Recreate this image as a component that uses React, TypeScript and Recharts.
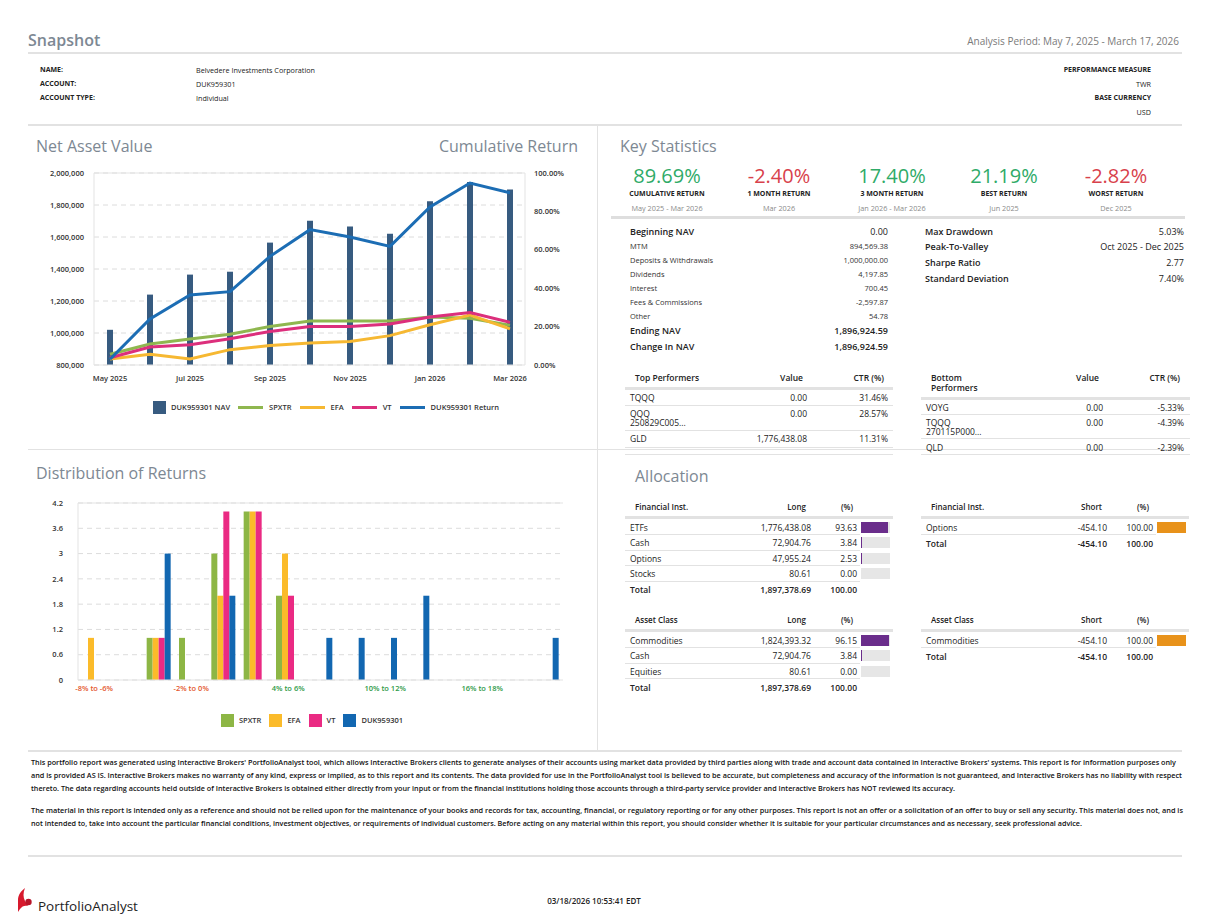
import React from 'react';
import {
  ComposedChart,
  BarChart,
  Bar,
  Line,
  XAxis,
  YAxis,
  CartesianGrid,
  Legend,
  ReferenceLine,
} from 'recharts';

const PAGE_W = 1207;
const PAGE_H = 923;
const FONT = '"Open Sans", "Noto Sans", sans-serif';
const TITLE = '#7d8893';
const RULE = '#e2e2e2';
const INK = '#222';

// ---- Net asset value / cumulative return ----
const months = ['May 2025', 'Jun 2025', 'Jul 2025', 'Aug 2025', 'Sep 2025', 'Oct 2025', 'Nov 2025', 'Dec 2025', 'Jan 2026', 'Feb 2026', 'Mar 2026'];
const navValues = [1020000, 1240000, 1365000, 1383000, 1565000, 1702000, 1665000, 1621000, 1823000, 1944000, 1896925];
const accountReturn = [3.0, 24.0, 36.5, 38.2, 56.6, 70.5, 66.7, 61.8, 82.3, 94.8, 89.7];
const spxtrReturn = [5.6, 10.9, 13.5, 16.0, 20.1, 22.9, 22.9, 22.9, 25.0, 24.3, 20.7];
const efaReturn = [3.1, 5.6, 3.1, 8.0, 10.1, 11.5, 12.3, 15.3, 21.0, 26.0, 18.8];
const vtReturn = [3.8, 9.4, 10.6, 13.7, 17.5, 20.1, 20.1, 21.4, 25.0, 27.3, 22.2];
const navTicks = [800000, 1000000, 1200000, 1400000, 1600000, 1800000, 2000000];
const returnTicks = [0, 20, 40, 60, 80, 100];
const navLegendOrder = ['DUK959301 NAV', 'SPXTR', 'EFA', 'VT', 'DUK959301 Return'];

// ---- Distribution of returns (count of months per bin) ----
const returnBins = ['-8% to -6%', '-6% to -4%', '-4% to -2%', '-2% to 0%', '0% to 2%', '2% to 4%', '4% to 6%', '6% to 8%', '8% to 10%', '10% to 12%', '12% to 14%', '14% to 16%', '16% to 18%', '18% to 20%', '20% to 22%'];
const spxtrCounts = [0, 0, 1, 1, 3, 4, 2, 0, 0, 0, 0, 0, 0, 0, 0];
const efaCounts = [1, 0, 1, 0, 2, 4, 3, 0, 0, 0, 0, 0, 0, 0, 0];
const vtCounts = [0, 0, 1, 0, 4, 4, 2, 0, 0, 0, 0, 0, 0, 0, 0];
const accountCounts = [0, 0, 3, 0, 2, 0, 0, 1, 1, 1, 2, 0, 0, 0, 1];
const distTicks = [0, 0.6, 1.2, 1.8, 2.4, 3, 3.6, 4.2];
const distLegendOrder = ['SPXTR', 'EFA', 'VT', 'DUK959301'];

// ---- Key statistics ----
const headlineValues = ['89.69%', '-2.40%', '17.40%', '21.19%', '-2.82%'];
const headlineLabels = ['CUMULATIVE RETURN', '1 MONTH RETURN', '3 MONTH RETURN', 'BEST RETURN', 'WORST RETURN'];
const headlinePeriods = ['May 2025 - Mar 2026', 'Mar 2026', 'Jan 2026 - Mar 2026', 'Jun 2025', 'Dec 2025'];
const navSummaryLabels = ['Beginning NAV', 'MTM', 'Deposits & Withdrawals', 'Dividends', 'Interest', 'Fees & Commissions', 'Other', 'Ending NAV', 'Change In NAV'];
const navSummaryValues = ['0.00', '894,569.38', '1,000,000.00', '4,197.85', '700.45', '-2,597.87', '54.78', '1,896,924.59', '1,896,924.59'];
const riskLabels = ['Max Drawdown', 'Peak-To-Valley', 'Sharpe Ratio', 'Standard Deviation'];
const riskValues = ['5.03%', 'Oct 2025 - Dec 2025', '2.77', '7.40%'];
const topNames = [['TQQQ'], ['QQQ', '250829C005...'], ['GLD']];
const topValues = ['0.00', '0.00', '1,776,438.08'];
const topCtr = ['31.46%', '28.57%', '11.31%'];
const bottomNames = [['VOYG'], ['TQQQ', '270115P000...'], ['QLD']];
const bottomValues = ['0.00', '0.00', '0.00'];
const bottomCtr = ['-5.33%', '-4.39%', '-2.39%'];

// ---- Allocation ----
const instLongNames = ['ETFs', 'Cash', 'Options', 'Stocks'];
const instLongValues = ['1,776,438.08', '72,904.76', '47,955.24', '80.61'];
const instLongPct = [93.63, 3.84, 2.53, 0.0];
const assetLongNames = ['Commodities', 'Cash', 'Equities'];
const assetLongValues = ['1,824,393.32', '72,904.76', '80.61'];
const assetLongPct = [96.15, 3.84, 0.0];
const longTotal = '1,897,378.69';
const instShortNames = ['Options'];
const assetShortNames = ['Commodities'];
const shortValues = ['-454.10'];
const shortPct = [100.0];
const shortTotal = '-454.10';

const disclaimer = [
  "This portfolio report was generated using Interactive Brokers' PortfolioAnalyst tool, which allows Interactive Brokers clients to generate analyses of their accounts using market data provided by third parties along with trade and account data contained in Interactive Brokers' systems. This report is for information purposes only",
  'and is provided AS IS. Interactive Brokers makes no warranty of any kind, express or implied, as to this report and its contents. The data provided for use in the PortfolioAnalyst tool is believed to be accurate, but completeness and accuracy of the information is not guaranteed, and Interactive Brokers has no liability with respect',
  'thereto. The data regarding accounts held outside of Interactive Brokers is obtained either directly from your input or from the financial institutions holding those accounts through a third-party service provider and Interactive Brokers has NOT reviewed its accuracy.',
  'The material in this report is intended only as a reference and should not be relied upon for the maintenance of your books and records for tax, accounting, financial, or regulatory reporting or for any other purposes. This report is not an offer or a solicitation of an offer to buy or sell any security. This material does not, and is',
  'not intended to, take into account the particular financial conditions, investment objectives, or requirements of individual customers. Before acting on any material within this report, you should consider whether it is suitable for your particular circumstances and as necessary, seek professional advice.',
];
const disclaimerY = [762, 775, 788, 810, 823];
const disclaimerEnd = [1176, 1182, 955, 1183, 1082];

const navData = months.map((month, i) => ({
  month,
  nav: navValues[i],
  account: accountReturn[i],
  spxtr: spxtrReturn[i],
  efa: efaReturn[i],
  vt: vtReturn[i],
}));

const distData = returnBins.map((bin, i) => ({
  bin,
  spxtr: spxtrCounts[i],
  efa: efaCounts[i],
  vt: vtCounts[i],
  account: accountCounts[i],
}));

type TProps = {
  x: number;
  y: number;
  a?: 'l' | 'r' | 'c';
  s?: number;
  w?: number;
  c?: string;
  children: React.ReactNode;
};

const T = ({ x, y, a = 'l', s = 8, w = 400, c = INK, children }: TProps) => {
  const st: React.CSSProperties = {
    position: 'absolute',
    top: y - s,
    height: s * 2,
    lineHeight: `${s * 2}px`,
    fontSize: s,
    fontWeight: w,
    color: c,
    whiteSpace: 'nowrap',
  };
  if (a === 'l') st.left = x;
  else if (a === 'r') st.right = PAGE_W - x;
  else {
    st.left = x - 150;
    st.width = 300;
    st.textAlign = 'center';
  }
  return <div style={st}>{children}</div>;
};

const HLine = ({ x1, x2, y, h = 1, c = RULE }: { x1: number; x2: number; y: number; h?: number; c?: string }) => (
  <div style={{ position: 'absolute', left: x1, width: x2 - x1, top: y - h / 2, height: h, background: c }} />
);

const VLine = ({ x, y1, y2, c = RULE }: { x: number; y1: number; y2: number; c?: string }) => (
  <div style={{ position: 'absolute', left: x, top: y1, width: 1, height: y2 - y1, background: c }} />
);

const axisTick = { fontSize: 7.5, fontWeight: 600, fill: '#333', fontFamily: FONT };

const ChartLegend = (props: any) => {
  const order: string[] = props.order || [];
  const payload = [...(props.payload || [])].sort(
    (a: any, b: any) => order.indexOf(a.value) - order.indexOf(b.value),
  );
  return (
    <div style={{ display: 'flex', justifyContent: 'center', alignItems: 'center', fontFamily: FONT, fontSize: 7.5, fontWeight: 600, color: '#333' }}>
      {payload.map((entry: any) => (
        <div key={entry.value} style={{ display: 'flex', alignItems: 'center', marginRight: 8 }}>
          {entry.type === 'plainline' ? (
            <div style={{ width: 25, height: 3, background: entry.color, marginRight: 6 }} />
          ) : (
            <div style={{ width: 13, height: 13, background: entry.color, marginRight: 5 }} />
          )}
          <span>{entry.value}</span>
        </div>
      ))}
    </div>
  );
};

const BinTick = (props: any) => {
  const { x, y, payload } = props;
  const label = String(payload.value);
  const negative = label.startsWith('-');
  return (
    <text x={x} y={y} dy={5.3} textAnchor="middle" fontFamily={FONT} fontSize={7.5} fontWeight={600} fill={negative ? '#e4572e' : '#2e9a48'}>
      {label}
    </text>
  );
};

const NavChart = () => (
  <ComposedChart width={560} height={261.5} data={navData} margin={{ top: 13, right: 5, bottom: 8, left: 12 }}>
    <CartesianGrid yAxisId="nav" vertical={false} stroke="#dcdcdc" strokeDasharray="5 4" />
    <XAxis
      dataKey="month"
      scale="point"
      padding={{ left: 16, right: 15 }}
      interval={1}
      tickLine={false}
      tickMargin={5}
      axisLine={{ stroke: '#e3e3e3' }}
      tick={axisTick}
      height={35.5}
    />
    <YAxis
      yAxisId="nav"
      domain={[800000, 2000000]}
      ticks={navTicks}
      tickFormatter={(v: number) => v.toLocaleString('en-US')}
      width={62}
      tickLine={false}
      tickMargin={4}
      axisLine={{ stroke: '#e3e3e3' }}
      tick={axisTick}
    />
    <YAxis
      yAxisId="ret"
      orientation="right"
      domain={[0, 100]}
      ticks={returnTicks}
      tickFormatter={(v: number) => `${v.toFixed(2)}%`}
      width={50}
      tickLine={false}
      tickMargin={3}
      axisLine={{ stroke: '#e3e3e3' }}
      tick={axisTick}
    />
    <ReferenceLine yAxisId="nav" y={2000000} stroke="#e3e3e3" />
    <Legend content={<ChartLegend order={navLegendOrder} />} wrapperStyle={{ left: 75, width: 470 }} />
    <Bar yAxisId="nav" dataKey="nav" name="DUK959301 NAV" legendType="square" fill="#375b80" barSize={6} isAnimationActive={false} />
    <Line yAxisId="ret" dataKey="spxtr" name="SPXTR" legendType="plainline" stroke="#8fb74f" strokeWidth={3} dot={false} isAnimationActive={false} />
    <Line yAxisId="ret" dataKey="efa" name="EFA" legendType="plainline" stroke="#f6b832" strokeWidth={3} dot={false} isAnimationActive={false} />
    <Line yAxisId="ret" dataKey="vt" name="VT" legendType="plainline" stroke="#dc2f7c" strokeWidth={3} dot={false} isAnimationActive={false} />
    <Line yAxisId="ret" dataKey="account" name="DUK959301 Return" legendType="plainline" stroke="#1c6db4" strokeWidth={3} dot={false} isAnimationActive={false} />
  </ComposedChart>
);

const DistChart = () => (
  <BarChart width={560} height={241.5} data={distData} margin={{ top: 13, right: 17, bottom: 5, left: 18 }} barGap={0} barSize={6}>
    <CartesianGrid vertical={false} stroke="#dcdcdc" strokeDasharray="5 4" />
    <XAxis dataKey="bin" interval={2} tickLine={false} tickMargin={0} axisLine={{ stroke: '#e3e3e3' }} tick={<BinTick />} height={33.5} />
    <YAxis domain={[0, 4.2]} ticks={distTicks} width={40} tickLine={false} tickMargin={9} axisLine={{ stroke: '#e3e3e3' }} tick={axisTick} />
    <YAxis yAxisId="edge" orientation="right" width={0} tick={false} axisLine={{ stroke: '#e3e3e3' }} />
    <ReferenceLine y={4.2} stroke="#e3e3e3" />
    <Legend content={<ChartLegend order={distLegendOrder} />} wrapperStyle={{ left: 66, width: 460 }} />
    <Bar dataKey="spxtr" name="SPXTR" legendType="square" fill="#8db645" isAnimationActive={false} />
    <Bar dataKey="efa" name="EFA" legendType="square" fill="#fbbb2a" isAnimationActive={false} />
    <Bar dataKey="vt" name="VT" legendType="square" fill="#ea2a83" isAnimationActive={false} />
    <Bar dataKey="account" name="DUK959301" legendType="square" fill="#1267b1" isAnimationActive={false} />
  </BarChart>
);

const PctBar = ({ x, y, pct, color }: { x: number; y: number; pct: number; color: string }) => (
  <div style={{ position: 'absolute', left: x, top: y - 5.5, width: 29, height: 11, background: '#e6e6e6' }}>
    <div style={{ width: `${pct}%`, height: '100%', background: color }} />
  </div>
);

type AllocProps = {
  x: number; // left edge of the band
  y: number; // header row centre
  title: string;
  side: string;
  names: string[];
  values: string[];
  pcts: number[];
  total: string;
  color: string;
};

const AllocTable = ({ x, y, title, side, names, values, pcts, total, color }: AllocProps) => {
  const rowY = (i: number) => y + 20 + i * 15.5;
  return (
    <>
      <T x={x + 10} y={y} s={8} w={600}>{title}</T>
      <T x={x + 181} y={y} a="r" s={8} w={600}>{side}</T>
      <T x={x + 228} y={y} a="r" s={8} w={600}>(%)</T>
      <HLine x1={x} x2={x + 268} y={y + 10.5} h={3} />
      {names.map((n, i) => (
        <React.Fragment key={n}>
          <T x={x + 5} y={rowY(i)} s={8.5}>{n}</T>
          <T x={x + 186} y={rowY(i)} a="r" s={8.5}>{values[i]}</T>
          <T x={x + 232} y={rowY(i)} a="r" s={8.5}>{pcts[i].toFixed(2)}</T>
          <PctBar x={x + 236} y={rowY(i)} pct={pcts[i]} color={color} />
          <HLine x1={x} x2={x + 235} y={rowY(i) + 7.7} />
        </React.Fragment>
      ))}
      <T x={x + 5} y={rowY(names.length) + 0.5} s={8.5} w={600}>Total</T>
      <T x={x + 186} y={rowY(names.length) + 0.5} a="r" s={8.5} w={600}>{total}</T>
      <T x={x + 232} y={rowY(names.length) + 0.5} a="r" s={8.5} w={600}>100.00</T>
    </>
  );
};

const Logo = () => (
  <svg style={{ position: 'absolute', left: 16, top: 887 }} width={18} height={26} viewBox="0 0 18 26">
    <path d="M2 25 L2 13 C2 8 5 4 9 1 C7 6 7 10 9 14 L12 19 C9 18 6 19 4 22 Z" fill="#d7192d" />
    <circle cx={12.5} cy={15} r={3.2} fill="#b8152a" />
  </svg>
);

export default function App() {
  const heads = [667, 779, 892, 1004, 1116];
  const navRowsY = [232, 246, 260, 274, 288, 302, 316, 331, 347];
  const bigRows = [0, 7, 8];
  const riskRowsY = [232, 247, 263, 279];

  return (
    <div style={{ position: 'absolute', left: 0, top: 0, width: PAGE_W, height: PAGE_H, background: '#fff', fontFamily: FONT, overflow: 'hidden' }}>
      {/* header */}
      <T x={28} y={40} s={16} w={600} c={TITLE}>Snapshot</T>
      <T x={1179} y={41} a="r" s={10} c="#7a7a7a">Analysis Period: May 7, 2025 - March 17, 2026</T>
      <HLine x1={28} x2={1182} y={53} h={2} />
      <T x={40} y={70} s={7} w={700}>NAME:</T>
      <T x={40} y={84} s={7} w={700}>ACCOUNT:</T>
      <T x={40} y={98} s={7} w={700}>ACCOUNT TYPE:</T>
      <T x={196} y={70} s={7.2}>Belvedere Investments Corporation</T>
      <T x={196} y={84} s={7.2}>DUK959301</T>
      <T x={196} y={98} s={7.2}>Individual</T>
      <T x={1151} y={70} a="r" s={7} w={700}>PERFORMANCE MEASURE</T>
      <T x={1151} y={84} a="r" s={7.2}>TWR</T>
      <T x={1151} y={98} a="r" s={7} w={700}>BASE CURRENCY</T>
      <T x={1151} y={112} a="r" s={7.2}>USD</T>
      <HLine x1={28} x2={1182} y={125} h={2} />
      <VLine x={597} y1={126} y2={751} />
      <HLine x1={28} x2={1182} y={449} />
      <HLine x1={28} x2={1182} y={751} h={2} />

      {/* net asset value */}
      <T x={36} y={146} s={16} c={TITLE}>Net Asset Value</T>
      <T x={578} y={146} a="r" s={16} c={TITLE}>Cumulative Return</T>
      <div style={{ position: 'absolute', left: 20, top: 160 }}>
        <NavChart />
      </div>

      {/* distribution */}
      <T x={36} y={473} s={16} c={TITLE}>Distribution of Returns</T>
      <div style={{ position: 'absolute', left: 20, top: 490 }}>
        <DistChart />
      </div>

      {/* key statistics */}
      <T x={620} y={146} s={16} c={TITLE}>Key Statistics</T>
      {headlineValues.map((v, i) => (
        <React.Fragment key={headlineLabels[i]}>
          <T x={heads[i]} y={176} a="c" s={20} c={v.startsWith('-') ? '#d8414b' : '#2fab68'}>{v}</T>
          <T x={heads[i]} y={194} a="c" s={7} w={700}>{headlineLabels[i]}</T>
          <T x={heads[i]} y={208} a="c" s={7.3} c="#8a8a8a">{headlinePeriods[i]}</T>
        </React.Fragment>
      ))}
      <HLine x1={611} x2={1185} y={217.5} h={3} c="#dedede" />
      {navSummaryLabels.map((l, i) => {
        const big = bigRows.includes(i);
        return (
          <React.Fragment key={l}>
            <T x={630} y={navRowsY[i]} s={big ? 9 : 7.5} w={big ? 600 : 400} c={big ? INK : '#333'}>{l}</T>
            <T x={888} y={navRowsY[i]} a="r" s={big ? 9 : 7.5} w={i > 0 && big ? 600 : 400} c={big ? INK : '#333'}>{navSummaryValues[i]}</T>
          </React.Fragment>
        );
      })}
      {riskLabels.map((l, i) => (
        <React.Fragment key={l}>
          <T x={925} y={riskRowsY[i]} s={9} w={600}>{l}</T>
          <T x={1184} y={riskRowsY[i]} a="r" s={9}>{riskValues[i]}</T>
        </React.Fragment>
      ))}

      {/* top performers */}
      <T x={635} y={377} s={8.5} w={600}>Top Performers</T>
      <T x={803} y={377} a="r" s={8.5} w={600}>Value</T>
      <T x={884} y={377} a="r" s={8.5} w={600}>CTR (%)</T>
      <HLine x1={625} x2={893} y={388.5} h={3} />
      {topNames.map((n, i) => {
        const y = [397, 413, 438][i];
        return (
          <React.Fragment key={n.join()}>
            {n.map((line, j) => (
              <T key={line} x={630} y={y + j * 9} s={8.5}>{line}</T>
            ))}
            <T x={807} y={y} a="r" s={8.5}>{topValues[i]}</T>
            <T x={888} y={y} a="r" s={8.5}>{topCtr[i]}</T>
            <HLine x1={625} x2={893} y={[405, 430, 447][i]} />
          </React.Fragment>
        );
      })}
      <HLine x1={625} x2={893} y={454} />

      {/* bottom performers */}
      <T x={931} y={377} s={8.5} w={600}>Bottom</T>
      <T x={931} y={387} s={8.5} w={600}>Performers</T>
      <T x={1099} y={377} a="r" s={8.5} w={600}>Value</T>
      <T x={1180} y={377} a="r" s={8.5} w={600}>CTR (%)</T>
      <HLine x1={921} x2={1190} y={398} h={3} />
      {bottomNames.map((n, i) => {
        const y = [407, 422, 447][i];
        return (
          <React.Fragment key={n.join()}>
            {n.map((line, j) => (
              <T key={line} x={926} y={y + j * 9} s={8.5}>{line}</T>
            ))}
            <T x={1103} y={y} a="r" s={8.5}>{bottomValues[i]}</T>
            <T x={1184} y={y} a="r" s={8.5}>{bottomCtr[i]}</T>
            <HLine x1={921} x2={1190} y={[414, 438, 454][i]} />
          </React.Fragment>
        );
      })}

      {/* allocation */}
      <T x={635} y={476} s={16} c={TITLE}>Allocation</T>
      <AllocTable x={625} y={507} title="Financial Inst." side="Long" names={instLongNames} values={instLongValues} pcts={instLongPct} total={longTotal} color="#6a2d8b" />
      <AllocTable x={625} y={620} title="Asset Class" side="Long" names={assetLongNames} values={assetLongValues} pcts={assetLongPct} total={longTotal} color="#6a2d8b" />
      <AllocTable x={921} y={507} title="Financial Inst." side="Short" names={instShortNames} values={shortValues} pcts={shortPct} total={shortTotal} color="#e8921a" />
      <AllocTable x={921} y={620} title="Asset Class" side="Short" names={assetShortNames} values={shortValues} pcts={shortPct} total={shortTotal} color="#e8921a" />

      {/* disclaimer */}
      <svg style={{ position: 'absolute', left: 0, top: 750 }} width={PAGE_W} height={90}>
        {disclaimer.map((line, i) => (
          <text
            key={i}
            x={31}
            y={disclaimerY[i] - 750 + 3}
            fontFamily={FONT}
            fontSize={7.2}
            fontWeight={600}
            fill="#111"
            textLength={disclaimerEnd[i] - 31}
            lengthAdjust="spacingAndGlyphs"
          >
            {line}
          </text>
        ))}
      </svg>
      <HLine x1={28} x2={1182} y={856} h={2} />

      {/* footer */}
      <Logo />
      <T x={38} y={906} s={13.5} c="#222">PortfolioAnalyst</T>
      <T x={594} y={901} a="c" s={8} w={600}>03/18/2026 10:53:41 EDT</T>
    </div>
  );
}
